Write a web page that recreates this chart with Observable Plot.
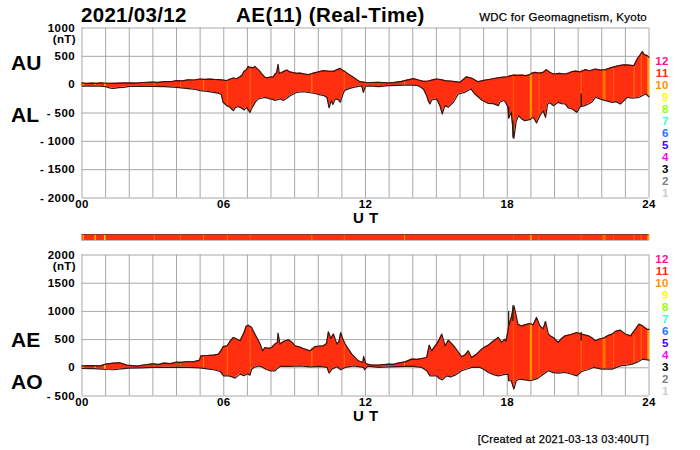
<!DOCTYPE html>
<html><head><meta charset="utf-8">
<script src="https://cdn.jsdelivr.net/npm/d3@7"></script>
<script src="https://cdn.jsdelivr.net/npm/@observablehq/plot@0.6"></script>
<style>
html,body{margin:0;padding:0;background:#fff}
#c{position:relative;width:700px;height:450px;overflow:hidden;font-family:"Liberation Sans",Arial,sans-serif;color:#000}
#c>svg,#c>div{position:absolute}
.t{font-weight:bold;white-space:nowrap;line-height:1}
</style></head><body><div id="c"></div>
<script>
const auSeries=[[0,30],[.2,22],[.4,28],[.6,24],[.8,30],[1,25],[1.3,24],[1.6,28],[2,30],[2.3,28],[2.6,38],[3,47],[3.2,40],[3.5,55],[3.75,52],[4,70],[4.25,68],[4.5,85],[4.75,82],[5,100],[5.2,92],[5.4,98],[5.6,92],[5.8,88],[6,80],[6.12,70],[6.25,95],[6.41,118],[6.55,105],[6.69,140],[6.78,170],[6.86,235],[6.95,260],[7.04,323],[7.11,300],[7.18,305],[7.25,295],[7.32,323],[7.42,280],[7.51,247],[7.61,190],[7.68,160],[7.75,130],[7.88,125],[8.03,140],[8.1,135],[8.17,190],[8.24,210],[8.3,358],[8.35,200],[8.43,210],[8.52,230],[8.67,260],[8.8,225],[8.95,212],[9.1,200],[9.23,205],[9.4,190],[9.58,176],[9.7,190],[9.8,205],[10,225],[10.22,247],[10.4,240],[10.64,235],[10.8,265],[10.93,288],[11.03,255],[11.14,230],[11.3,180],[11.49,130],[11.62,90],[11.77,53],[12,40],[12.2,38],[12.55,41],[12.75,35],[12.97,30],[13.25,42],[13.54,59],[13.8,85],[14.03,106],[14.25,82],[14.45,59],[14.66,65],[14.85,85],[15.01,100],[15.2,88],[15.37,70],[15.6,62],[15.8,55],[16,41],[16.15,95],[16.28,141],[16.38,125],[16.49,118],[16.62,85],[16.77,53],[17,75],[17.34,100],[17.55,118],[17.76,130],[18,140],[18.15,160],[18.31,170],[18.45,165],[18.6,170],[18.8,160],[18.95,176],[19.05,205],[19.17,218],[19.35,205],[19.52,218],[19.66,265],[19.8,220],[19.95,188],[20.2,200],[20.45,188],[20.6,205],[20.73,229],[20.9,240],[21.1,225],[21.3,265],[21.5,245],[21.73,276],[21.95,258],[22.15,265],[22.4,300],[22.72,335],[22.95,350],[23.15,345],[23.36,335],[23.5,453],[23.62,520],[23.72,582],[23.8,530],[23.93,512],[24,482]];
const alSeries=[[0,-25],[.3,-20],[.77,-25],[1,-35],[1.2,-60],[1.34,-65],[1.55,-52],[1.76,-47],[2,-30],[2.5,-25],[3,-30],[3.5,-35],[4,-47],[4.5,-70],[4.8,-85],[5,-105],[5.3,-118],[5.57,-135],[5.75,-150],[5.85,-165],[5.9,-175],[5.97,-310],[6.05,-340],[6.12,-370],[6.25,-395],[6.41,-460],[6.48,-410],[6.6,-385],[6.69,-400],[6.86,-447],[6.97,-400],[7.04,-450],[7.11,-490],[7.18,-420],[7.25,-370],[7.35,-300],[7.46,-250],[7.6,-240],[7.75,-225],[7.96,-250],[8.1,-265],[8.17,-280],[8.38,-250],[8.52,-280],[8.67,-240],[8.81,-195],[9.09,-135],[9.37,-125],[9.73,-147],[9.9,-160],[10.09,-180],[10.25,-195],[10.37,-225],[10.46,-410],[10.55,-280],[10.62,-350],[10.72,-250],[10.85,-265],[10.93,-310],[11.02,-200],[11.1,-105],[11.3,-70],[11.49,-47],[11.7,-30],[11.84,-20],[11.91,-135],[12,-25],[12.2,-20],[12.55,-35],[12.97,-18],[13.4,-12],[13.82,-6],[14.24,-18],[14.45,-76],[14.59,-194],[14.66,-290],[14.73,-340],[14.8,-270],[15.01,-250],[15.15,-370],[15.25,-517],[15.36,-370],[15.5,-400],[15.72,-310],[15.93,-165],[16.21,-135],[16.46,-76],[16.63,-165],[16.92,-270],[17.05,-300],[17.2,-330],[17.4,-335],[17.62,-370],[17.69,-310],[17.83,-280],[17.92,-300],[18.03,-400],[18.06,-594],[18.17,-488],[18.24,-782],[18.28,-947],[18.38,-640],[18.48,-547],[18.6,-600],[18.74,-635],[18.95,-617],[19.1,-576],[19.24,-676],[19.38,-547],[19.52,-460],[19.62,-576],[19.71,-341],[19.8,-320],[19.95,-370],[20.16,-312],[20.3,-335],[20.45,-341],[20.59,-412],[20.75,-430],[20.94,-488],[21.09,-388],[21.25,-375],[21.44,-341],[21.6,-300],[21.73,-223],[21.95,-255],[22.15,-282],[22.44,-312],[22.6,-300],[22.79,-341],[23.08,-223],[23.3,-240],[23.58,-223],[23.86,-165],[24,-212]];
const aeSeries=[[0,35],[.4,40],[.78,35],[1,65],[1.34,83],[1.6,89],[1.75,70],[1.9,47],[2.33,30],[2.75,59],[3,71],[3.25,60],[3.46,83],[3.75,75],[4,100],[4.2,95],[4.44,112],[4.7,105],[4.98,136],[5.03,213],[5.3,218],[5.57,225],[5.78,242],[5.92,331],[5.98,378],[6.15,390],[6.28,480],[6.41,538],[6.55,510],[6.69,479],[6.86,626],[6.95,735],[7.04,756],[7.18,715],[7.32,597],[7.51,449],[7.65,301],[7.75,360],[7.9,345],[8.03,360],[8.17,420],[8.27,450],[8.3,615],[8.38,420],[8.55,470],[8.74,496],[8.9,450],[9.02,390],[9.2,370],[9.37,343],[9.66,301],[9.87,378],[10.22,390],[10.35,430],[10.43,638],[10.53,520],[10.64,600],[10.79,420],[10.88,470],[10.95,626],[11.05,500],[11.14,420],[11.28,330],[11.42,242],[11.7,124],[11.89,95],[11.92,201],[12.01,77],[12.2,53],[12.55,47],[12.97,65],[13.2,62],[13.39,83],[13.68,106],[13.96,154],[14.2,150],[14.38,165],[14.59,183],[14.7,402],[14.8,301],[15.01,420],[15.12,500],[15.23,597],[15.37,390],[15.51,490],[15.65,430],[15.79,360],[15.93,280],[16.07,195],[16.22,230],[16.35,301],[16.49,183],[16.7,242],[16.92,331],[17.05,370],[17.2,402],[17.4,470],[17.62,538],[17.76,450],[17.9,508],[17.95,470],[18.03,656],[18.06,745],[18.17,892],[18.28,1100],[18.38,920],[18.45,774],[18.6,740],[18.74,762],[18.95,786],[19.1,762],[19.24,892],[19.38,745],[19.52,690],[19.62,821],[19.74,597],[19.85,560],[19.95,538],[20.16,449],[20.3,520],[20.45,567],[20.7,590],[20.94,626],[21.15,597],[21.44,567],[21.6,530],[21.73,479],[21.9,510],[22.08,526],[22.25,570],[22.44,597],[22.6,650],[22.79,668],[23,600],[23.22,567],[23.4,670],[23.58,774],[23.72,745],[23.93,680],[24,680]];
const aoSeries=[[0,-12],[.5,-15],[1,-30],[1.34,-35],[1.65,-18],[1.97,-6],[2.5,-2],[3,6],[3.5,8],[4,12],[4.5,8],[4.98,0],[5.3,-20],[5.57,-35],[5.85,-65],[5.99,-142],[6.2,-142],[6.35,-160],[6.48,-183],[6.69,-112],[6.86,-142],[7,-105],[7.11,-130],[7.18,-24],[7.3,10],[7.46,35],[7.6,18],[7.8,-30],[7.96,-53],[8.17,-53],[8.28,-10],[8.38,24],[8.81,24],[9.23,35],[9.66,18],[10.09,24],[10.37,6],[10.46,-95],[10.58,-24],[10.79,18],[10.95,-35],[11.14,6],[11.49,35],[11.92,6],[11.96,-35],[12.08,24],[12.2,24],[12.55,6],[12.97,18],[13.68,24],[14.03,24],[14.38,6],[14.59,-53],[14.73,-142],[15.01,-142],[15.12,-190],[15.25,-213],[15.43,-142],[15.6,-160],[15.79,-130],[16.07,-53],[16.49,6],[16.85,6],[17.05,-40],[17.2,-83],[17.45,-125],[17.62,-142],[17.85,-120],[18.04,-112],[18.06,-230],[18.17,-230],[18.28,-378],[18.38,-230],[18.52,-200],[18.75,-215],[18.95,-230],[19.15,-210],[19.31,-183],[19.5,-125],[19.74,-53],[19.95,-85],[20.16,-95],[20.45,-83],[20.7,-110],[20.94,-142],[21.15,-65],[21.4,-35],[21.65,6],[22,-24],[22.44,-24],[22.79,35],[23.05,45],[23.29,65],[23.5,100],[23.72,153],[24,136]];
const stripeHours=[0.05,0.56,0.96,3.06,4.17,5.14,6.15,7.12,9.73,11.1,13.65,18.26,19,19.35,21.13,22.1,22.5,23.37,23.67,23.97];
const stripeAU=[30,25,25,47,75,100,75,315,190,240,60,170,178,210,260,265,300,340,560,490];
const stripeAL=[-25,-25,-33,-30,-55,-110,-375,-480,-145,-150,-8,-900,-610,-560,-380,-280,-320,-225,-225,-210];
const stripeAE=[35,35,60,71,105,213,390,730,350,430,106,1050,780,760,595,530,610,570,760,680];
const stripeAO=[-12,-15,-28,6,10,-5,-140,-100,20,0,24,-350,-225,-170,-70,-25,-15,70,140,136];
const stripeColors=["#ffd000","#ffb000","#ffe000","#ff7a10","#ff6a10","#ff8a10","#ff7a10","#ff6a10","#ff8a10","#ff6a10","#ffa000","#ff5a10","#ffa000","#ff6010","#ff6a10","#ff7000","#ff6010","#ff7a10","#ff7010","#ffa000"];
const stripeWidths=[1,1.5,1.5,1,1,1,1,1,1,1,1,1,2,1,1,3,1,1,1,2];
const blackHours=[21.13,18.06,18.24];
const blackTopUpper=[-165,-400,-640];const blackTopLower=[-388,-594,-947];
const blackBottomUpper=[626,1000,1100];const blackBottomLower=[470,745,820];
const legendLabels=["12","11","10","9","8","7","6","5","4","3","2","1"];
const legendColors=["#ff1090","#ff2a10","#ff9000","#ffff00","#99ff00","#33ffcc","#1a75ff","#4000ff","#ff00ff","#000000","#808080","#cccccc"];
const hourTicks=d3.range(25), labelHours=[0,6,12,18,24];
const topTicks=[1000,500,0,-500,-1000,-1500,-2000], bottomTicks=[2000,1500,1000,500,0,-500];

const RED="#ff2f10", EDGE="#3a1510", GRID="#a8a8a8";
const band=(u,l)=>d3.range(Math.max(u.length,l.length)).map(i=>{
  const a=u[Math.min(i,u.length-1)], b=l[Math.min(i,l.length-1)];
  return {x1:a[0],y1:a[1],x2:b[0],y2:b[1]};
});
const fmt=d=>d<0?"- "+(-d):String(d);
const c=document.getElementById("c");
function panel(o){
  const st=stripeHours.map((h,i)=>({h,hi:o.sHi[i],lo:o.sLo[i],color:stripeColors[i],w:stripeWidths[i]}));
  const bl=blackHours.map((h,i)=>({h,hi:o.bHi[i],lo:o.bLo[i]}));
  const p=Plot.plot({width:700,height:225,marginLeft:81.5,marginRight:51.5,marginTop:o.mt,marginBottom:o.mb,
    x:{domain:[0,24],axis:null},y:{domain:o.domain,axis:null},
    style:{fontFamily:'"Liberation Sans",Arial,sans-serif',background:"transparent"},
    marks:[
      Plot.gridX(hourTicks,{stroke:GRID,strokeOpacity:1,strokeWidth:1}),
      Plot.gridY(o.ticks,{stroke:GRID,strokeOpacity:1,strokeWidth:1}),
      Plot.area(band(o.u,o.l),{x1:"x1",y1:"y1",x2:"x2",y2:"y2",fill:RED}),
      Plot.ruleX(st,{x:"h",y1:"lo",y2:"hi",stroke:"color",strokeWidth:"w"}),
      Plot.ruleX(bl,{x:"h",y1:"lo",y2:"hi",stroke:"#111",strokeWidth:1.2}),
      Plot.line(o.u,{x:d=>d[0],y:d=>d[1],stroke:EDGE,strokeWidth:1.2}),
      Plot.line(o.l,{x:d=>d[0],y:d=>d[1],stroke:EDGE,strokeWidth:1.2}),
      Plot.axisY({ticks:o.ticks,tickFormat:fmt,tickSize:0,tickPadding:7,label:null,fontWeight:"bold",fontSize:11.5}),
      Plot.axisX({ticks:labelHours,tickFormat:d=>String(d).padStart(2,"0"),tickSize:0,tickPadding:2,label:null,fontWeight:"bold",fontSize:11.5})
    ]});
  p.style.left="0";p.style.top=o.top+"px";p.style.letterSpacing="0.4px";
  c.appendChild(p);
}
panel({top:0,mt:27.5,mb:27.5,domain:[-2000,1000],ticks:topTicks,u:auSeries,l:alSeries,sHi:stripeAU,sLo:stripeAL,bHi:blackTopUpper,bLo:blackTopLower});
panel({top:225,mt:29.5,mb:54.5,domain:[-500,2000],ticks:bottomTicks,u:aeSeries,l:aoSeries,sHi:stripeAE,sLo:stripeAO,bHi:blackBottomUpper,bLo:blackBottomLower});

const strip=Plot.plot({width:700,height:8,marginLeft:81.5,marginRight:51.5,marginTop:1,marginBottom:1,
  x:{domain:[0,24],axis:null},y:{domain:[0,1],axis:null},style:{background:"transparent"},
  marks:[
    Plot.ruleY([0.5],{x1:0,x2:24,stroke:RED,strokeWidth:6}),
    Plot.ruleX(stripeHours.map((h,i)=>({h,color:stripeColors[i],w:stripeWidths[i]})),{x:"h",stroke:"color",strokeWidth:"w"}),
    Plot.ruleY([1],{x1:0,x2:24,stroke:"#8a3a20"}),
    Plot.ruleY([0],{x1:0,x2:24,stroke:"#bbbbbb"})
  ]});
strip.style.left="0";strip.style.top="233px";c.appendChild(strip);

function txt(s,o){
  const d=document.createElement("div");d.className="t";d.textContent=s;
  d.style.fontSize=o.size+"px";d.style.top=o.y+"px";
  if(o.x!=null)d.style.left=o.x+"px";
  if(o.r!=null)d.style.right=(700-o.r)+"px";
  if(o.color)d.style.color=o.color;
  if(o.w)d.style.fontWeight=o.w;
  if(o.ls)d.style.letterSpacing=o.ls+"px";
  if(o.stroke)d.style.webkitTextStroke=o.stroke+"px #000";
  c.appendChild(d);
}
txt("2021/03/12",{x:81,y:5,size:20.5,ls:0.3});
txt("AE(11) (Real-Time)",{x:236,y:5,size:20.5,ls:0.45});
txt("WDC for Geomagnetism, Kyoto",{r:647,y:12,size:11.5,w:"normal",ls:0.25,stroke:0.25});
txt("(nT)",{r:76,y:34,size:11.5,ls:0.4});
txt("(nT)",{r:76,y:261,size:11.5,ls:0.4});
txt("AU",{x:11,y:52,size:21});
txt("AL",{x:11,y:104,size:21});
txt("AE",{x:11,y:329,size:21});
txt("AO",{x:11,y:371,size:21});
txt("U T",{x:353,y:210,size:15,ls:0.5});
txt("U T",{x:353,y:408,size:15,ls:0.5});
txt("[Created at 2021-03-13 03:40UT]",{r:649,y:434,size:11,w:"normal",ls:0.3,stroke:0.25});
legendLabels.forEach((s,i)=>{
  txt(s,{r:669,y:55.5+i*12.05,size:11.5,color:legendColors[i],ls:0.5});
  txt(s,{r:669,y:253.5+i*12.05,size:11.5,color:legendColors[i],ls:0.5});
});
</script></body></html>
